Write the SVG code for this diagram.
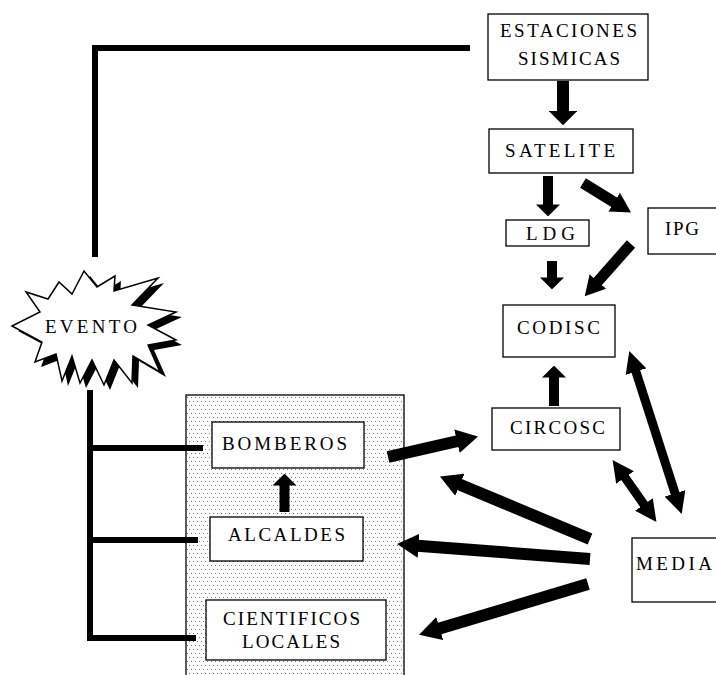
<svg xmlns="http://www.w3.org/2000/svg" width="716" height="675" viewBox="0 0 716 675">
<style>
.box{fill:#fff;stroke:#000;stroke-width:1.3}
.t{font-family:"Liberation Serif","Times New Roman",serif;font-size:19px;fill:#000}
.ln{fill:none;stroke:#000;stroke-width:6;stroke-linejoin:miter}
.ar{fill:none;stroke:#000}
</style>
<defs>
<pattern id="dots" width="8" height="8" patternUnits="userSpaceOnUse">
<rect width="8" height="8" fill="#fff"/>
<rect x="1" y="1" width="1" height="1" fill="#777"/>
<rect x="5" y="1" width="1" height="1" fill="#777"/>
<rect x="3" y="5" width="1" height="1" fill="#777"/>
<rect x="7" y="5" width="1" height="1" fill="#777"/>
</pattern>
<marker id="hs" viewBox="0 0 10 10" refX="0.5" refY="5" markerWidth="1.2" markerHeight="2.4" orient="auto" preserveAspectRatio="none"><path d="M0,0 L10,5 L0,10 z" fill="#000"/></marker>
<marker id="hl" viewBox="0 0 10 10" refX="0.5" refY="5" markerWidth="1.8" markerHeight="2.0" orient="auto" preserveAspectRatio="none"><path d="M0,0 L10,5 L0,10 z" fill="#000"/></marker>
<marker id="hd" viewBox="0 0 10 10" refX="0.5" refY="5" markerWidth="2.4" markerHeight="2.4" orient="auto-start-reverse" preserveAspectRatio="none"><path d="M0,0 L10,5 L0,10 z" fill="#000"/></marker>
</defs>
<rect width="716" height="675" fill="#fff"/>

<g id="local-group">
<rect x="186" y="395" width="218" height="290" fill="url(#dots)" stroke="#000" stroke-width="1.3"/>
</g>

<g id="connectors">
<path class="ln" d="M95,257 V48 H470"/>
<path class="ln" d="M90,390 V638 H196"/>
<path class="ln" d="M90,540 H198"/>
<path class="ln" d="M93,448 H203"/>
<line class="ar" x1="563" y1="81" x2="563" y2="111.6" stroke-width="12" marker-end="url(#hs)"/>
<line class="ar" x1="548" y1="176" x2="548" y2="205" stroke-width="10" marker-end="url(#hs)"/>
<line class="ar" x1="583" y1="183" x2="615" y2="202.7" stroke-width="11" marker-end="url(#hl)"/>
<line class="ar" x1="552" y1="261" x2="552" y2="278" stroke-width="10" marker-end="url(#hs)"/>
<line class="ar" x1="631" y1="244" x2="597.2" y2="282.2" stroke-width="11" marker-end="url(#hl)"/>
<line class="ar" x1="554" y1="406" x2="554" y2="377" stroke-width="10" marker-end="url(#hs)"/>
<line class="ar" x1="635.6" y1="370.6" x2="675.4" y2="494.4" stroke-width="9" marker-start="url(#hd)" marker-end="url(#hd)"/>
<line class="ar" x1="624.4" y1="476.7" x2="644.6" y2="505.3" stroke-width="9" marker-start="url(#hd)" marker-end="url(#hd)"/>
<line class="ar" x1="388" y1="457" x2="458" y2="441" stroke-width="12" marker-end="url(#hl)"/>
<line class="ar" x1="590" y1="539" x2="458.9" y2="484.3" stroke-width="12" marker-end="url(#hl)"/>
<line class="ar" x1="590" y1="559" x2="417.5" y2="545.7" stroke-width="12" marker-end="url(#hl)"/>
<line class="ar" x1="588" y1="584" x2="438.7" y2="628.8" stroke-width="12" marker-end="url(#hl)"/>
<line class="ar" x1="284.5" y1="512" x2="284.5" y2="485" stroke-width="10" marker-end="url(#hs)"/>
</g>

<g id="estaciones">
<rect class="box" x="488" y="14" width="160" height="66"/>
<text class="t" x="500" y="37" textLength="137" lengthAdjust="spacing">ESTACIONES</text>
<text class="t" x="518" y="65" textLength="102" lengthAdjust="spacing">SISMICAS</text>
</g>
<g id="satelite">
<rect class="box" x="489" y="129" width="144" height="44"/>
<text class="t" x="505" y="157" textLength="110" lengthAdjust="spacing">SATELITE</text>
</g>
<g id="ldg">
<rect class="box" x="506" y="220" width="83" height="26"/>
<text class="t" x="526" y="240" textLength="49" lengthAdjust="spacing">LDG</text>
</g>
<g id="ipg">
<rect class="box" x="648" y="208" width="72" height="46"/>
<text class="t" x="665" y="235" textLength="34" lengthAdjust="spacing">IPG</text>
</g>
<g id="codisc">
<rect class="box" x="503" y="305" width="112" height="52"/>
<text class="t" x="517" y="334" textLength="83" lengthAdjust="spacing">CODISC</text>
</g>
<g id="circosc">
<rect class="box" x="492" y="408" width="128" height="42"/>
<text class="t" x="510" y="434" textLength="95" lengthAdjust="spacing">CIRCOSC</text>
</g>
<g id="media">
<rect class="box" x="632" y="538" width="90" height="64"/>
<text class="t" x="636" y="570" textLength="76" lengthAdjust="spacing">MEDIA</text>
</g>
<g id="bomberos">
<rect class="box" x="212" y="422" width="152" height="46"/>
<text class="t" x="222" y="450" textLength="125" lengthAdjust="spacing">BOMBEROS</text>
</g>
<g id="alcaldes">
<rect class="box" x="210" y="517" width="153" height="44"/>
<text class="t" x="228" y="541" textLength="117" lengthAdjust="spacing">ALCALDES</text>
</g>
<g id="cientificos">
<rect class="box" x="206" y="600" width="180" height="60"/>
<text class="t" x="223" y="625" textLength="137" lengthAdjust="spacing">CIENTIFICOS</text>
<text class="t" x="242" y="648" textLength="98" lengthAdjust="spacing">LOCALES</text>
</g>
<g id="evento">
<polygon fill="#000" transform="translate(6,5)" points="12,326 40,312 26,292 48,299 59,282 72,294 84,271 97,287 115,276 114,291 158,278 132,305 176,312 148,325 176,340 148,345 160,372 133,356 132,383 114,360 104,385 92,360 80,383 72,356 62,381 56,354 35,362 42,342"/>
<polygon fill="#fff" stroke="#000" stroke-width="1.5" points="12,326 40,312 26,292 48,299 59,282 72,294 84,271 97,287 115,276 114,291 158,278 132,305 176,312 148,325 176,340 148,345 160,372 133,356 132,383 114,360 104,385 92,360 80,383 72,356 62,381 56,354 35,362 42,342"/>
<text class="t" x="45" y="333" textLength="92" lengthAdjust="spacing">EVENTO</text>
</g>
</svg>
